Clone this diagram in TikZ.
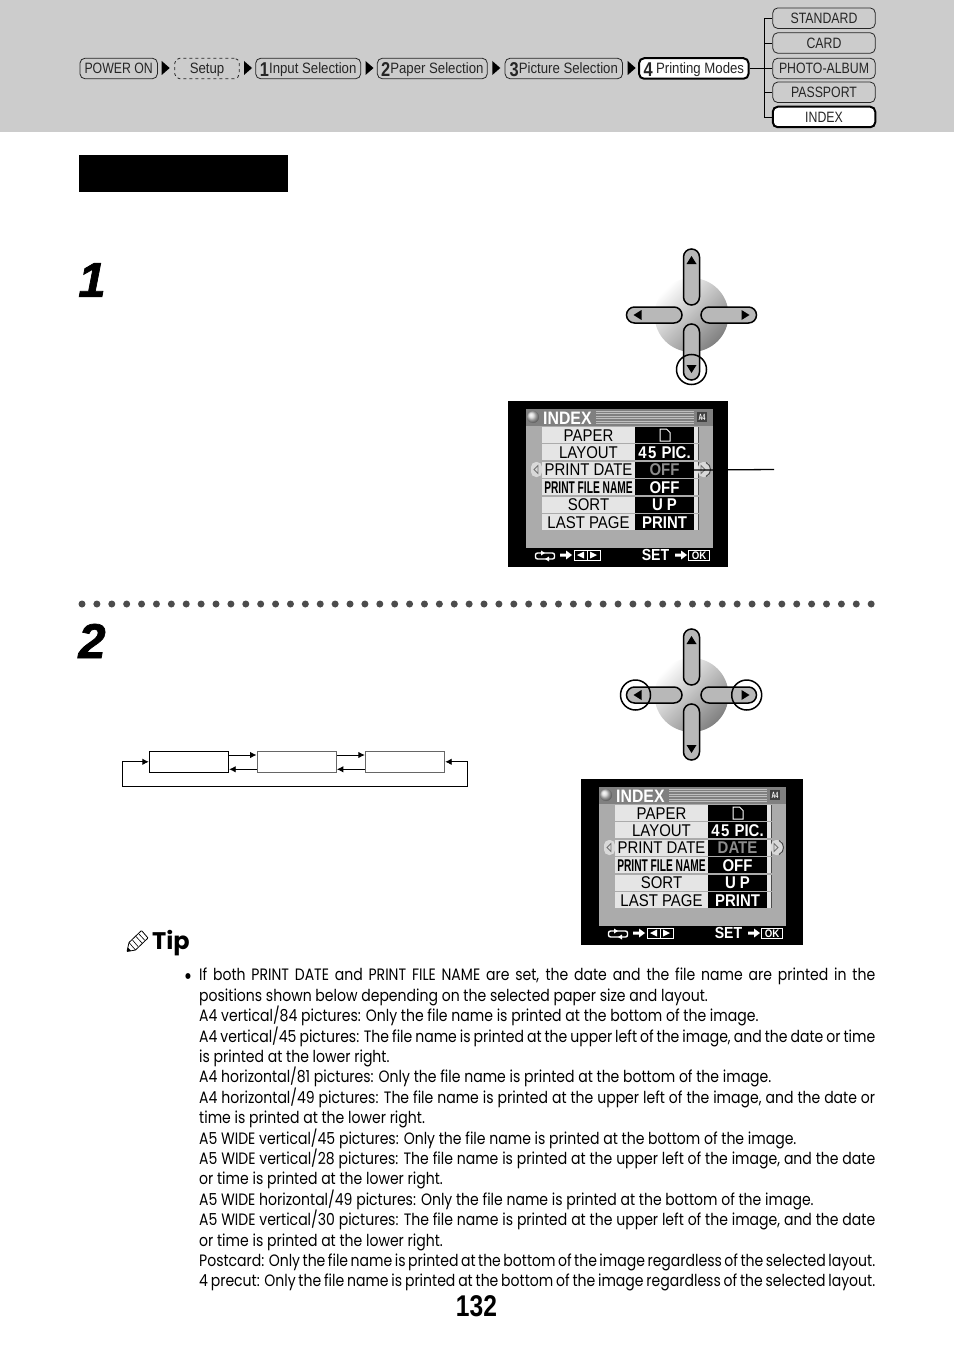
\documentclass[tikz,border=0pt]{standalone}
\usepackage{fontspec}
\usetikzlibrary{arrows.meta}
\setmainfont[FakeStretch=0.85]{Poppins}
\newfontfamily\tipfont{Poppins}
\newfontfamily\narrowfont[FakeStretch=0.82]{Liberation Sans}
\newfontfamily\guidefont[FakeStretch=0.88]{Liberation Sans}
\newfontfamily\lcdfont[FakeStretch=0.88]{Liberation Sans}
\newfontfamily\lcdtight[FakeStretch=0.6]{Liberation Sans}
\newfontfamily\stepfont[FakeBold=1.5]{Liberation Sans}
\definecolor{bandgray}{HTML}{CCCCCC}
\newcommand{\guidenum}[1]{\raisebox{-2.5pt}{\narrowfont\bfseries\fontsize{20}{18}\selectfont #1}}
\newcommand{\tipline}[1]{\hbox to 676pt{#1}}
\tikzset{
  guide/.style={draw=black!85,rounded corners=5,line width=.8,text=black!85,inner sep=0,
    minimum height=20.5,text height=10.5,text depth=0pt,font=\narrowfont\fontsize{15}{18}\selectfont},
  guidenow/.style={guide,draw=black,fill=white,line width=2},
  guidewait/.style={guide,dashed},
  stepnum/.style={font=\stepfont\bfseries\itshape\fontsize{49}{50}\selectfont,inner sep=0},
  cyclebox/.style={draw,minimum width=79.5,minimum height=21,inner sep=0,line width=.9},
  cycleline/.style={line width=.9,-{Latex[length=6.5pt,width=6.5pt]}},
  knob/.style={left color=white,right color=black!50,shading angle=45},
  padbar/.style={draw=black,line width=1.5,rounded corners=8},
  padv/.style={padbar,left color=black!28,middle color=white,right color=black!28},
  padh/.style={padbar,top color=black!28,middle color=white,bottom color=black!28},
  lcdlabel/.style={inner sep=0,font=\lcdfont\fontsize{17}{18}\selectfont},
  lcdvalue/.style={inner sep=0,text=white,font=\lcdfont\bfseries\fontsize{17}{18}\selectfont},
  lcdwhite/.style={inner sep=0,text=white,font=\lcdfont\bfseries\fontsize{18}{18}\selectfont},
  dpad/.pic={
    \shade[knob] (0,0) circle (37);
    \draw[padv] (-8,-66) rectangle (8,-10);
    \draw[padv] (-8,9) rectangle (8,65);
    \draw[padh] (-65,-8) rectangle (-9.5,8);
    \draw[padh] (9.5,-8) rectangle (65,8);
    \fill (0,-59) -- (5,-51) -- (-5,-51) -- cycle;
    \fill (0,58) -- (5,50) -- (-5,50) -- cycle;
    \fill (-58,0) -- (-50,-5) -- (-50,5) -- cycle;
    \fill (58,0) -- (50,-5) -- (50,5) -- cycle;
  }
}
\newcommand{\lcdscreen}[5]{
  \begin{scope}[shift={(#2,#3)}]
    \fill (0,0) rectangle (#5,166);
    \fill[black!33] (18,8) rectangle (205,147);
    \fill[black!50] (18,8) rectangle (205,25);
    \foreach \sy in {10,12.5,15,17.5,20,22.5}
      \draw[black!25,line width=.7] (88,\sy) -- (186,\sy);
    \shade[ball color=black!15] (25,16) circle (6);
    \node[lcdwhite,anchor=west] (#1title) at (35,17) {INDEX};
    \node[fill=black!75,text=white,inner sep=0,minimum width=10,minimum height=10,font=\lcdtight\bfseries\fontsize{9}{9}\selectfont] (#1paper) at (194,16) {A4};
    \foreach \rowid/\rowlabel/\rowvalue/\rowtint [count=\i] in {paper/PAPER/{}/white,layout/LAYOUT/4\kern1.5pt 5\kern1pt\ PIC./white,date/PRINT DATE/#4/black!45,file/\lcdtight\bfseries PRINT FILE NAME/OFF/white,sort/SORT/U P/white,last/LAST PAGE/PRINT/white} {
      \pgfmathsetmacro\rowtop{26+17.4*(\i-1)}
      \fill[black!10] (34,\rowtop) rectangle (127,\rowtop+16);
      \fill (127,\rowtop) rectangle (186,\rowtop+16);
      \fill[black!10] (186,\rowtop) rectangle (189.5,\rowtop+16);
      \fill[black!70] (189.5,\rowtop) rectangle (190.7,\rowtop+16);
      \node[lcdlabel] (#1\rowid label) at (80.5,\rowtop+8.3) {\rowlabel};
      \node[lcdvalue,text=\rowtint] (#1\rowid value) at (156.5,\rowtop+8.3) {\rowvalue};
    }
    \draw[white,line width=1] (152,28) -- (158.5,28) -- (162,31.5) -- (162,40) -- (152,40) -- cycle;
    \fill[black!15,rounded corners=5] (23,61) rectangle (34,76);
    \fill[black!15,rounded corners=5] (190,61) rectangle (202,76);
    \draw[black!55,line width=.8] (30,64.5) -- (26,68.5) -- (30,72.5) -- cycle;
    \draw[black!55,line width=.8] (193,64.5) -- (197,68.5) -- (193,72.5) -- cycle;
    \draw[black!70,line width=1] (198,61.5) .. controls (204,64) and (204,73) .. (198,75.5);
    \draw[white,line width=1.4,rounded corners=2] (38,158) -- (27.5,158) -- (27.5,152) -- (33,152);
    \fill[white] (33,149.5) -- (37,152) -- (33,154.5) -- cycle;
    \draw[white,line width=1.4,rounded corners=2] (36,152) -- (46.5,152) -- (46.5,158) -- (41,158);
    \fill[white] (41,155.5) -- (37,158) -- (41,160.5) -- cycle;
    \foreach \ax in {52,167}
      \fill[white] (\ax,152.5) -- (\ax+6,152.5) -- (\ax+6,149.5) -- (\ax+12,154) -- (\ax+6,158.5) -- (\ax+6,155.5) -- (\ax,155.5) -- cycle;
    \draw[white,line width=1] (66,149) rectangle (79,159);
    \draw[white,line width=1] (79,149) rectangle (92,159);
    \fill[white] (69,154) -- (76,150.5) -- (76,157.5) -- cycle;
    \fill[white] (89,154) -- (82,150.5) -- (82,157.5) -- cycle;
    \node[lcdwhite,font=\lcdfont\bfseries\fontsize{16}{18}\selectfont] (#1set) at (147.5,154) {SET};
    \node[draw=white,line width=1,minimum width=21,minimum height=10.5,inner sep=0,text=white,font=\lcdfont\bfseries\fontsize{11}{11}\selectfont] (#1ok) at (191,154.5) {OK};
  \end{scope}
}
\begin{document}
\begin{tikzpicture}[x=1pt,y=-1pt]
      \useasboundingbox (0,0) rectangle (954,1348);
      \fill[bandgray] (0,0) rectangle (954,132);
      \fill (79,155) rectangle (288,192);
      \node[guide,minimum width=77.5] (poweron) at (118.7,68.5) {POWER ON};
      \node[guidewait,minimum width=64.5] (setup) at (207,68.5) {\guidefont Setup};
      \node[guide,minimum width=105] (inputsel) at (308.2,68.5) {\guidenum{1}\guidefont Input Selection};
      \node[guide,minimum width=110] (papersel) at (432.3,68.5) {\guidenum{2}\guidefont Paper Selection};
      \node[guide,minimum width=117.5] (picturesel) at (563.8,68.5) {\guidenum{3}\guidefont Picture Selection};
      \node[guidenow,minimum width=109.5] (printmodes) at (693.8,68.5) {\guidenum{4} \guidefont Printing Modes};
      \foreach \tx in {161.7,244,365.5,492.3,627.7}
        \fill (\tx,61) -- (\tx+8,68) -- (\tx,75) -- cycle;
      \foreach \modeid/\modename/\modey in {standard/STANDARD/18.2,card/CARD/43,album/PHOTO-ALBUM/68.5,passport/PASSPORT/92.3}
        \node[guide,minimum width=102.5] (\modeid) at (824,\modey) {\modename};
      \node[guidenow,minimum width=102.5] (indexmode) at (824,117) {INDEX};
      \coordinate (trunk) at (764.3,68.5);
      \draw[line width=.8] (printmodes.east) -- (album.west);
      \foreach \modeid in {standard,card,passport,indexmode}
        \draw[line width=.8] (trunk) |- (\modeid.west);
      \node[stepnum] (stepone) at (92,280) {1};
      \node[stepnum] (steptwo) at (92,641) {2};
      \pic at (691.5,315) {dpad};
      \draw[line width=1.5] (691.5,369.5) circle (15);
      \lcdscreen{first}{508}{401}{OFF}{220}
      \coordinate (calloutend) at (774,469.5);
      \draw[line width=1.3] (firstdatevalue.east) ++(12,0) -- (calloutend);
      \draw[line width=7,line cap=round,black!70,dash pattern=on 0pt off 14.89pt] (82,604) -- (873,604);
      \pic at (691.5,695) {dpad};
      \draw[line width=1.5] (635.5,695) circle (15);
      \draw[line width=1.5] (746.7,695) circle (15);
      \node[cyclebox] (cycleone) at (189,761.8) {};
      \node[cyclebox,draw=black!60] (cycletwo) at (296.7,761.8) {};
      \node[cyclebox,draw=black!60] (cyclethree) at (405,761.8) {};
      \foreach \fromid/\toid in {cycleone/cycletwo,cycletwo/cyclethree} {
        \draw[cycleline] ([yshift=6.8pt]\fromid.east) -- ([yshift=6.8pt]\toid.west);
        \draw[cycleline] ([yshift=-7.5pt]\toid.west) -- ([yshift=-7.5pt]\fromid.east);
      }
      \coordinate (loopleft) at (122.3,786);
      \coordinate (loopright) at (467.7,786);
      \draw[line width=.9,{Latex[length=6.5pt,width=6.5pt]}-{Latex[length=6.5pt,width=6.5pt]}] (cycleone.west) -| (loopleft) -- (loopright) |- (cyclethree.east);
      \lcdscreen{second}{581}{779}{DATE}{222}
      \draw[line width=.8,fill=white,rounded corners=.6] (127,951.5) -- (129,942.5) -- (141.5,930.5) -- (148,938) -- (135.5,950) -- cycle;
      \draw[line width=.6] (129,942.5) -- (135.5,950);
      \draw[line width=.6] (132.5,940) -- (138,946.5);
      \draw[line width=.6] (136,936.5) -- (142,943);
      \draw[line width=.6] (138.5,933.5) -- (145,940.5);
      \fill (127,951.5) -- (127.8,947.5) -- (131,950.6) -- cycle;
      \node[inner sep=0,anchor=base west,font=\tipfont\bfseries\fontsize{24}{26}\selectfont] (tiphead) at (152,949) {Tip};
      \node[inner sep=0,anchor=base,font=\fontsize{24}{20}\selectfont] (tipbullet) at (188,984) {•};
      \node[inner sep=0,anchor=north west,align=left,font=\fontsize{16.5}{20.4}\selectfont] (tipbody) at (199,968) {%
        \tipline{If both PRINT DATE and PRINT FILE NAME are set, the date and the file name are printed in the}\\
        positions shown below depending on the selected paper size and layout.\\
        A4 vertical/84 pictures: Only the file name is printed at the bottom of the image.\\
        \tipline{A4 vertical/45 pictures: The file name is printed at the upper left of the image, and the date or time}\\
        is printed at the lower right.\\
        A4 horizontal/81 pictures: Only the file name is printed at the bottom of the image.\\
        \tipline{A4 horizontal/49 pictures: The file name is printed at the upper left of the image, and the date or}\\
        time is printed at the lower right.\\
        A5 WIDE vertical/45 pictures: Only the file name is printed at the bottom of the image.\\
        \tipline{A5 WIDE vertical/28 pictures: The file name is printed at the upper left of the image, and the date}\\
        or time is printed at the lower right.\\
        A5 WIDE horizontal/49 pictures: Only the file name is printed at the bottom of the image.\\
        \tipline{A5 WIDE vertical/30 pictures: The file name is printed at the upper left of the image, and the date}\\
        or time is printed at the lower right.\\
        \tipline{Postcard: Only the file name is printed at the bottom of the image regardless of the selected layout.}\\
        \tipline{4 precut: Only the file name is printed at the bottom of the image regardless of the selected layout.}};
      \node[inner sep=0,font=\narrowfont\bfseries\fontsize{30}{30}\selectfont] (pagenum) at (476.5,1306) {132};
      \end{tikzpicture}
\end{document}
